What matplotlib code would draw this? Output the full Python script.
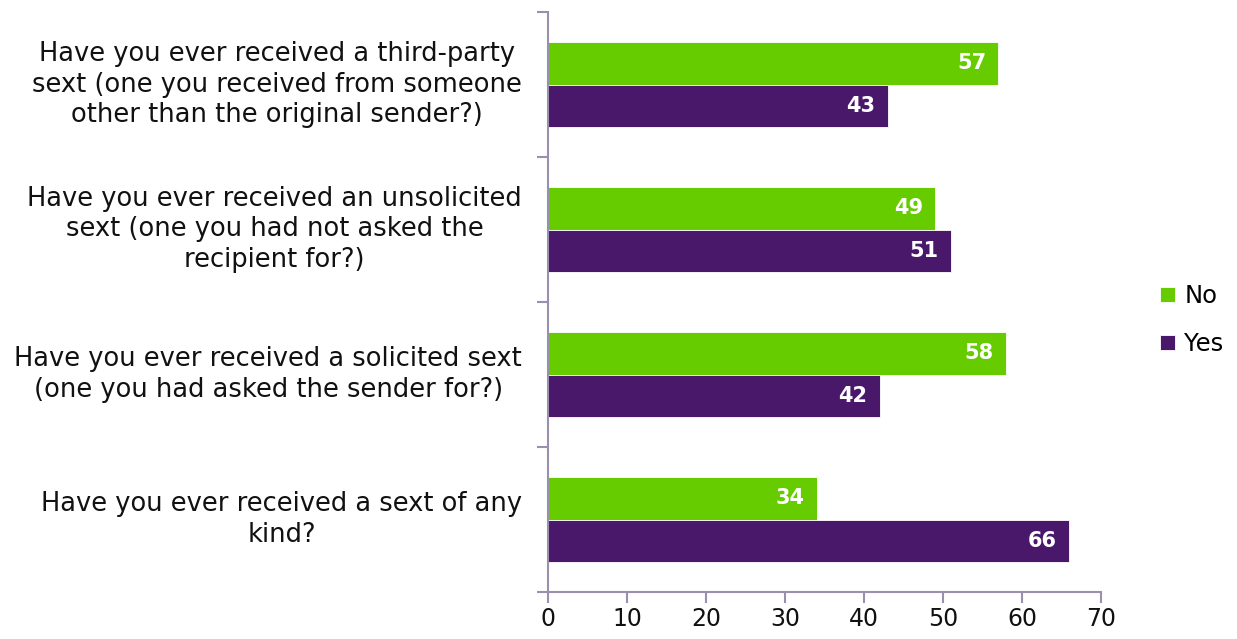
import matplotlib
matplotlib.use('Agg')
import matplotlib.pyplot as plt
import numpy as np

# data, top to bottom as in the chart
questions = [
    "Have you ever received a third-party\nsext (one you received from someone\nother than the original sender?)",
    "Have you ever received an unsolicited\nsext (one you had not asked the\nrecipient for?)",
    "Have you ever received a solicited sext\n(one you had asked the sender for?)",
    "Have you ever received a sext of any\nkind?",
]
no_vals = [57, 49, 58, 34]
yes_vals = [43, 51, 42, 66]
x_ticks = [0, 10, 20, 30, 40, 50, 60, 70]

green = '#66CC00'
purple = '#4A186B'
axis_col = '#9A8FAE'

plt.rcParams['font.family'] = ['DejaVu Sans']

fig = plt.figure(figsize=(12.37, 6.39), dpi=100)
ax = fig.add_axes([548 / 1237, 1 - 592 / 639, (1101 - 548) / 1237, (592 - 12) / 639])

y = np.arange(len(questions))
h = 0.29
b_no = ax.barh(y - h / 2, no_vals, height=h, color=green, edgecolor='white', linewidth=0.6, label='No')
b_yes = ax.barh(y + h / 2, yes_vals, height=h, color=purple, edgecolor='white', linewidth=0.6, label='Yes')

for bars, vals in ((b_no, no_vals), (b_yes, yes_vals)):
    for bar, v in zip(bars, vals):
        ax.text(bar.get_width() - 3.4, bar.get_y() + bar.get_height() / 2, str(v),
                ha='center', va='center', color='white', fontsize=15, fontweight='bold')

ax.set_xlim(0, 70)
ax.set_ylim(len(questions) - 0.5, -0.5)
ax.set_xticks(x_ticks)
ax.set_xticklabels([str(t) for t in x_ticks], fontsize=17)
ax.set_yticks(np.arange(len(questions) + 1) - 0.5)
ax.set_yticklabels([])

for i, q in enumerate(questions):
    ax.text(-26 / 7.9, i, q, ha='right', va='center', multialignment='center',
            fontsize=18.5, color='#111111', linespacing=1.22)

for side in ('top', 'right'):
    ax.spines[side].set_visible(False)
for side in ('left', 'bottom'):
    ax.spines[side].set_color(axis_col)
    ax.spines[side].set_linewidth(1.5)
ax.tick_params(axis='both', direction='out', length=8, width=1.5, color=axis_col, labelcolor='#111111')
ax.tick_params(axis='x', pad=3)

fig.legend(handles=[b_no, b_yes], labels=['No', 'Yes'], loc='center left',
           bbox_to_anchor=(1160 / 1237, 1 - 320 / 639), frameon=False, fontsize=17.5,
           handlelength=0.6, handleheight=0.6, handletextpad=0.4, labelspacing=1.0,
           borderpad=0, borderaxespad=0)

fig.savefig('out.png', dpi=100)
